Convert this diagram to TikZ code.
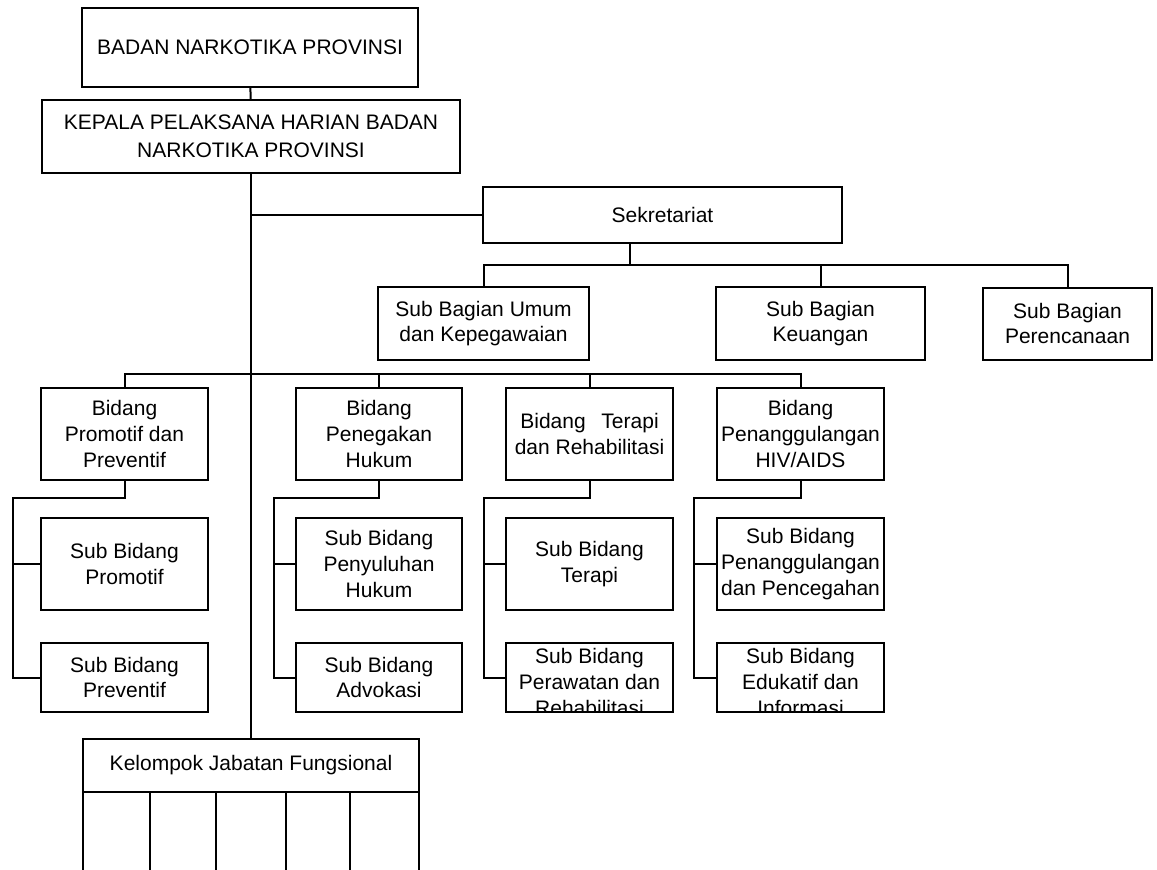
\documentclass[tikz,border=0pt]{standalone}
\usepackage{fontspec}
\setmainfont{Liberation Sans}

\begin{document}
\begin{tikzpicture}[x=0.5pt,y=-0.5pt,
  box/.style={draw,line width=1pt,inner sep=0pt,outer sep=0pt,align=center,
    font=\fontsize{10.5}{12.8}\selectfont},
  txt/.style={inner sep=0pt,align=center,font=\fontsize{10.5}{12.8}\selectfont},
  link/.style={line width=1pt}]
\clip (0,0) rectangle (1157,869);
% top
\node[box,minimum width=168pt,minimum height=39.5pt](badan) at (250,47.5){BADAN NARKOTIKA PROVINSI};
\node[box,minimum width=209pt,minimum height=36.5pt,font=\fontsize{10.5}{14}\selectfont](kepala) at (251,136.5)
  {KEPALA PELAKSANA HARIAN BADAN\\NARKOTIKA PROVINSI};
\node[box,minimum width=179.5pt,minimum height=28pt](sekre) at (662.5,215){Sekretariat};
% sub bagian
\node[box,minimum width=105.5pt,minimum height=36.5pt](umum) at (483.5,323.5){Sub Bagian Umum\\dan Kepegawaian};
\node[box,minimum width=104.5pt,minimum height=36.5pt](keu) at (820.5,323.5){Sub Bagian\\Keuangan};
\node[box,minimum width=84.5pt,minimum height=36pt](renc) at (1067.5,323.5){Sub Bagian\\Perencanaan};
% bidang
\node[box,minimum width=83.5pt,minimum height=46pt](promo) at (124.5,434){Bidang\\Promotif dan\\Preventif};
\node[box,minimum width=83pt,minimum height=46pt](hukum) at (379,434){Bidang\\Penegakan\\Hukum};
\node[box,minimum width=83.5pt,minimum height=46pt](terapi) at (589.5,434){Bidang\hspace{0.75em}Terapi\\dan Rehabilitasi};
\node[box,minimum width=83.5pt,minimum height=46pt](hiv) at (800.5,434){Bidang\\Penanggulangan\\HIV/AIDS};
% sub bidang
\node[box,minimum width=83.5pt,minimum height=46pt](sp1) at (124.5,564){Sub Bidang\\Promotif};
\node[box,minimum width=83.5pt,minimum height=34.5pt](sp2) at (124.5,677.5){Sub Bidang\\Preventif};
\node[box,minimum width=83pt,minimum height=46pt](sh1) at (379,564){Sub Bidang\\Penyuluhan\\Hukum};
\node[box,minimum width=83pt,minimum height=34.5pt](sh2) at (379,677.5){Sub Bidang\\Advokasi};
\node[box,minimum width=83.5pt,minimum height=46pt](st1) at (589.5,564){Sub Bidang\\Terapi};
\node[box,minimum width=83.5pt,minimum height=34.5pt](st2) at (589.5,677.5){};
\node[box,minimum width=83.5pt,minimum height=46pt](sv1) at (800.5,564){Sub Bidang\\Penanggulangan\\dan Pencegahan};
\node[box,minimum width=83.5pt,minimum height=34.5pt](sv2) at (800.5,677.5){};
\begin{scope}
\clip (st2.north west) rectangle (st2.south east);
\node[txt](st2t) at (589.5,682){Sub Bidang\\Perawatan dan\\Rehabilitasi};
\end{scope}
\begin{scope}
\clip (sv2.north west) rectangle (sv2.south east);
\node[txt](sv2t) at (800.5,682){Sub Bidang\\Edukatif dan\\Informasi};
\end{scope}
% kelompok jabatan fungsional
\node[box,minimum width=168pt,minimum height=26.5pt](kel) at (251,765.5){Kelompok Jabatan Fungsional};
\draw[link] (kel.south west) -- ++(0,100);
\draw[link] (kel.south east) -- ++(0,100);
\foreach \cx in {150,216,286,350}
  \draw[line width=1.3pt] (kel.south -| \cx,0) -- ++(0,100);
% connectors
\coordinate (sbus) at (630,265);
\coordinate (bbus) at (252,374);
\draw[link] (badan) -- (kepala);
\draw[link] (kepala.south) -- (kel.north);
\draw[link] (sekre.west) -- (sekre.west -| kepala.south);
\draw[link] (sekre.south -| sbus) -- (sbus);
\draw[link] (umum.north) |- (sbus) -| (renc.north);
\draw[link] (keu.north) -- (keu.north |- sbus);
\draw[link] (promo.north) |- (bbus) -| (hiv.north);
\draw[link] (hukum.north) -- (hukum.north |- bbus);
\draw[link] (terapi.north) -- (terapi.north |- bbus);
\foreach \b/\s/\t/\g in {promo/sp1/sp2/14,hukum/sh1/sh2/11,terapi/st1/st2/11,hiv/sv1/sv2/11.5}{
  \draw[link] (\b.south) -- ++(0,18) -| ([xshift=-\g pt]\s.west) |- (\t.west);
  \draw[link] (\s.west) -- ([xshift=-\g pt]\s.west);
}
\end{tikzpicture}
\end{document}
